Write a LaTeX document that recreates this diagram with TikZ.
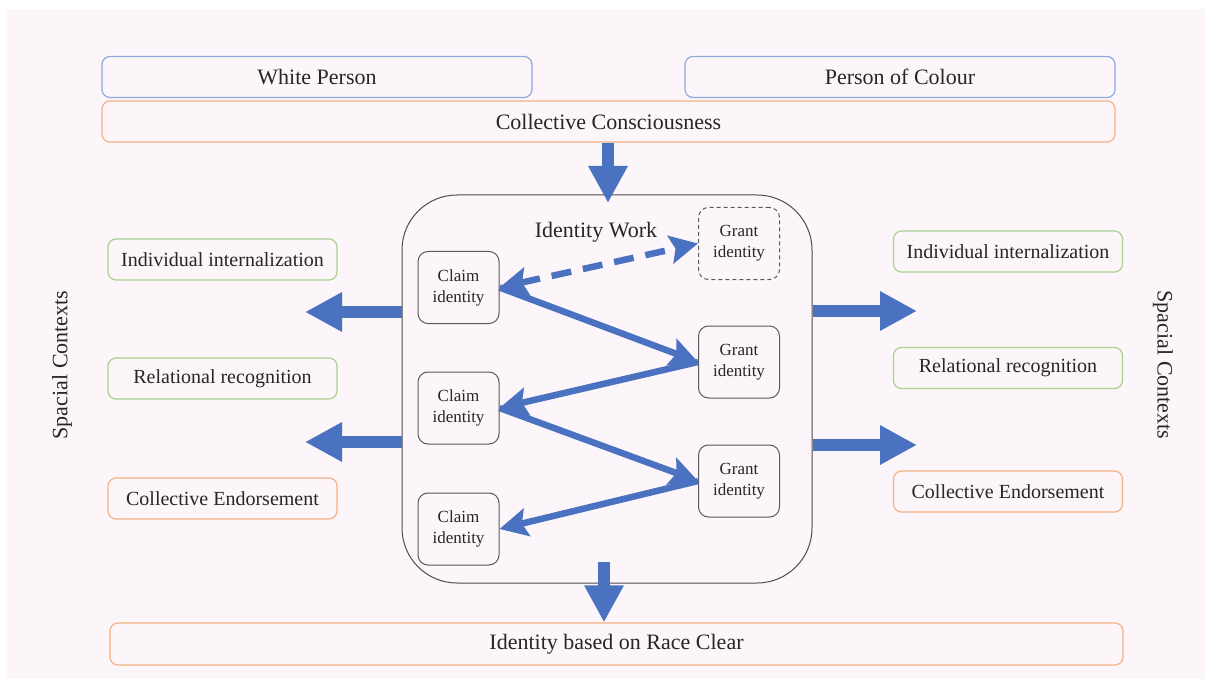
\documentclass[tikz,border=0pt]{standalone}
\usepackage{fontspec}
\setmainfont{Liberation Serif}
\usepackage{tikz}
\usetikzlibrary{arrows.meta}

\definecolor{bgpink}{HTML}{FCF6FA}
\definecolor{arrowblue}{HTML}{4A72C0}
\definecolor{lineblue}{HTML}{8EA9DB}
\definecolor{lineorange}{HTML}{F4B183}
\definecolor{linegreen}{HTML}{A9D08E}
\definecolor{textgray}{HTML}{262626}

\begin{document}
\begin{tikzpicture}[
		x=1pt, y=-1pt,
		every node/.style={text=textgray, inner sep=0pt},
		topbox/.style={rectangle, rounded corners=8pt, draw, line width=1.2pt, minimum height=41pt, font=\fontsize{22}{26}\selectfont},
		sidebox/.style={rectangle, rounded corners=8pt, draw, line width=1.2pt, minimum width=229pt, minimum height=41pt, font=\fontsize{20}{24}\selectfont},
		idbox/.style={rectangle, rounded corners=10pt, draw=black!65, line width=1pt, minimum width=81pt, minimum height=72pt, align=center, font=\fontsize{17}{21}\selectfont},
		fatarrow/.style={draw=arrowblue, line width=12pt, -{Triangle[length=37pt, width=37pt]}, arrowblue},
		thinarrow/.style={draw=arrowblue, line width=6.5pt, -{Stealth[length=28pt, width=28pt, inset=5pt]}, arrowblue}
	]
  \useasboundingbox (0, 0) rectangle (1205, 679);
  \fill[white] (0, 0) rectangle (1205, 679);
  \fill[bgpink] (7, 9) rectangle (1205, 679);

  \node (wp) [topbox, draw=lineblue, minimum width=430pt] at (317, 77) {White Person};
  \node (poc) [topbox, draw=lineblue, minimum width=430pt] at (900, 77) {Person of Colour};
  \node (cc) [topbox, draw=lineorange, minimum width=1013pt] at (608.5, 121.5) {Collective Consciousness};

  \node (iw) [rectangle, rounded corners=55pt, draw=black!70, line width=1pt, minimum width=410pt, minimum height=388pt] at (607, 389) {};
  \node (iwlabel) [font=\fontsize{22}{26}\selectfont] at (596, 232) {Identity Work};

  \node (g0) [idbox, dashed, dash pattern=on 4pt off 3pt] at (739, 243.5) {Grant\\identity};
  \node (c1) [idbox] at (458.5, 287.5) {Claim\\identity};
  \node (g1) [idbox] at (739, 362) {Grant\\identity};
  \node (c2) [idbox] at (458.5, 408) {Claim\\identity};
  \node (g2) [idbox] at (739, 481) {Grant\\identity};
  \node (c3) [idbox] at (458.5, 529) {Claim\\identity};

  \node (li) [sidebox, draw=linegreen] at (222.5, 259.5) {Individual internalization};
  \node (lr) [sidebox, draw=linegreen] at (222.5, 378.5) {Relational recognition};
  \node (le) [sidebox, draw=lineorange] at (222.5, 498.5) {Collective Endorsement};
  \node (ri) [sidebox, draw=linegreen] at (1008, 251.5) {Individual internalization};
  \node (rr) [sidebox, draw=linegreen] at (1008, 368) {Relational recognition};
  \node (re) [sidebox, draw=lineorange] at (1008, 491.5) {Collective Endorsement};

  \node (lsc) [rotate=90, font=\fontsize{22}{26}\selectfont] at (62, 365) {Spacial Contexts};
  \node (rsc) [rotate=-90, font=\fontsize{22}{26}\selectfont] at (1163, 365) {Spacial Contexts};

  \node (rc) [topbox, draw=lineorange, minimum width=1013pt, minimum height=42pt] at (616.5, 644) {Identity based on Race Clear};

  \coordinate (top) at (608, 203);
  \coordinate (la1) at (305, 312);
  \coordinate (la2) at (305, 442);
  \coordinate (ra1) at (917, 311);
  \coordinate (ra2) at (917, 445);
  \coordinate (bs) at (604, 562);

  \draw[fatarrow] (cc.south -| top) -- (top);
  \draw[fatarrow] (iw.west |- la1) -- (la1);
  \draw[fatarrow] (iw.west |- la2) -- (la2);
  \draw[fatarrow] (iw.east |- ra1) -- (ra1);
  \draw[fatarrow] (iw.east |- ra2) -- (ra2);
  \draw[fatarrow] (bs) -- (bs |- rc.north);

  \draw[thinarrow, {Stealth[length=28pt, width=28pt, inset=5pt]}-{Stealth[length=28pt, width=28pt, inset=5pt]}, dash pattern=on 20pt off 12pt] (c1.east) -- (g0.west);
  \draw[thinarrow] (c1.east) -- (g1.west);
  \draw[thinarrow] (g1.west) -- (c2.east);
  \draw[thinarrow] (c2.east) -- (g2.west);
  \draw[thinarrow] (g2.west) -- (c3.east);
\end{tikzpicture}
\end{document}
